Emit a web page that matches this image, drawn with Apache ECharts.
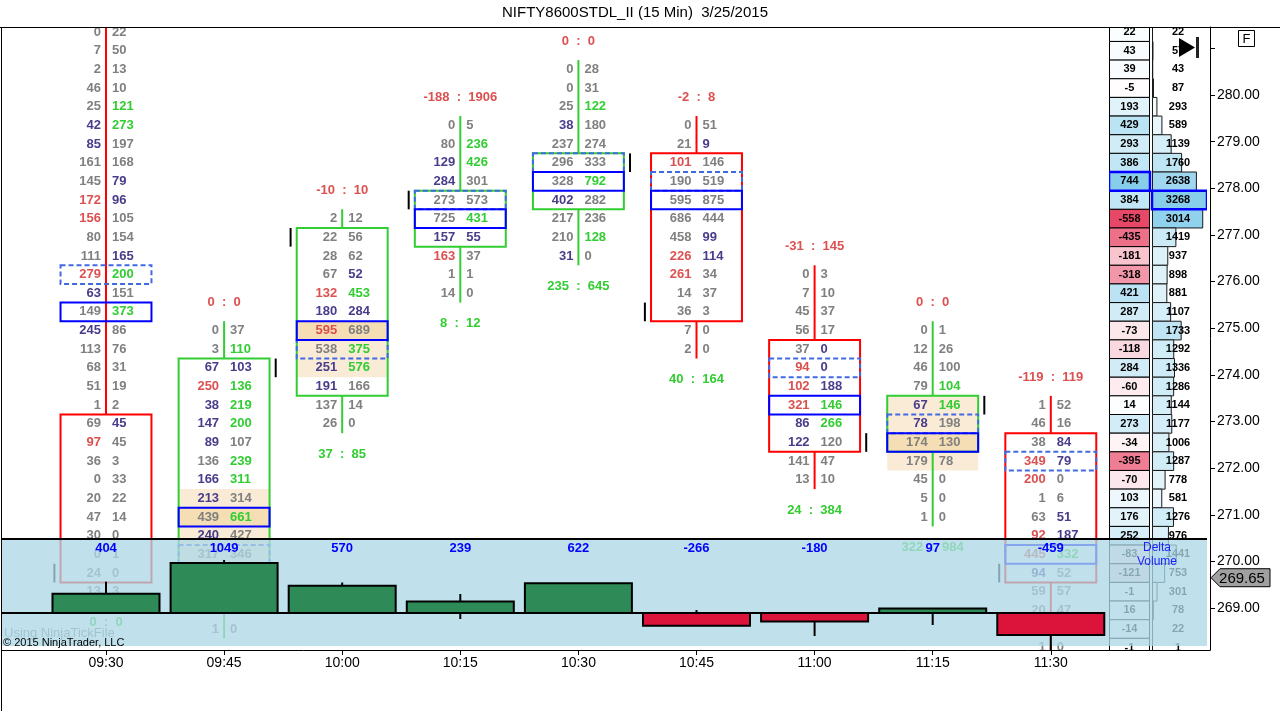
<!DOCTYPE html>
<html>
<head>
<meta charset="utf-8">
<title>NIFTY8600STDL_II footprint</title>
<script src="https://cdn.jsdelivr.net/npm/echarts@6.0.0/dist/echarts.min.js"></script>
<style>
html,body{margin:0;padding:0;background:#fff;}
#chart{width:1280px;height:711px;}
</style>
</head>
<body>
<div id="chart"></div>
<script>
// ================= DATA =================
const times = ['09:30','09:45','10:00','10:15','10:30','10:45','11:00','11:15','11:30'];
const tickSize = 0.4;                       // price height of one footprint row
// price of the highest row of every bar
const barTop = [281.35, 274.95, 277.35, 279.35, 280.55, 279.35, 276.15, 274.95, 273.35];
// bid volume per row (top row first)
const bids = [
  [0,7,2,46,25,42,85,161,145,172,156,80,111,279,63,149,245,113,68,51,1,69,97,36,0,20,47,30,0,24,13],
  [0,3,67,250,38,147,89,136,166,213,439,240,317,319,79,11,1],
  [2,22,28,67,132,180,595,538,251,191,137,26],
  [0,80,129,284,273,725,157,163,1,14],
  [0,0,25,38,237,296,328,402,217,210,31],
  [0,21,101,190,595,686,458,226,261,14,36,7,2],
  [0,7,45,56,37,94,102,321,86,122,141,13],
  [0,12,46,79,67,78,174,179,45,5,1],
  [1,46,38,349,200,1,63,92,445,94,59,20,17,1]
];
// ask volume per row (top row first)
const asks = [
  [22,50,13,10,121,273,197,168,79,96,105,154,165,200,151,373,86,76,31,19,2,45,45,3,33,22,14,0,1,0,3],
  [37,110,103,136,219,200,107,239,311,314,661,427,346,264,90,0,0],
  [12,56,62,52,453,284,689,375,576,166,14,0],
  [5,236,426,301,573,431,55,37,1,0],
  [28,31,122,180,274,333,792,282,236,128,0],
  [51,9,146,519,875,444,99,114,34,37,3,0,0],
  [3,10,37,17,0,0,188,146,266,120,47,10],
  [1,26,100,104,146,198,130,78,0,0,0],
  [52,16,84,79,0,6,51,187,332,52,57,47,4,0]
];
const opens  = [272.95, 269.75, 273.75, 276.95, 277.75, 278.55, 274.55, 272.55, 272.55];
const closes = [269.75, 274.15, 276.95, 277.75, 278.55, 275.35, 272.55, 273.35, 269.75];
const dashedLevel = [276.15, 270.15, 274.55, 277.75, 278.55, 278.15, 274.15, 272.95, 272.15];
const shadeHigh = [null, 271.35, 274.95, null, null, null, null, 273.35, null];
const shadeLow  = [null, 270.15, 274.15, null, null, null, null, 272.15, null];
const closeMarkSide = [-1, 1, -1, -1, 1, -1, 1, 1, -1];
// bar header "a : b" (red) and footer "a : b" (green); null = outside the picture
const headerA = [null, 0, -10, -188, 0, -2, -31, 0, -119];
const headerB = [null, 0, 10, 1906, 0, 8, 145, 0, 119];
const footerA = [0, null, 37, 8, 235, 40, 24, 322, null];
const footerB = [0, null, 85, 12, 645, 164, 384, 984, null];
// delta volume panel
const barDelta  = [404, 1049, 570, 239, 622, -266, -180, 97, -459];
const deltaHigh = [656, 1112, 640, 399, 622, 63, 0, 97, 0];
const deltaLow  = [0, 0, 0, -126, 0, -266, -482, -252, -776];
// right-hand profile (top row first)
const profileTop = 281.35;
const profileDelta  = [22,43,39,-5,193,429,293,386,744,384,-558,-435,-181,-318,421,287,-73,-118,284,-60,14,273,-34,-395,-70,103,176,252,-83,-121,-1,16,-14,-1];
const profileVolume = [22,57,43,87,293,589,1139,1760,2638,3268,3014,1419,937,898,881,1107,1733,1292,1336,1286,1144,1177,1006,1287,778,581,1276,976,1441,753,301,78,22,1];
const lastPrice = 269.65;
const priceTicks  = [269,270,271,272,273,274,275,276,277,278,279,280,281];
const priceLabels = [269,270,271,272,273,274,275,276,277,278,279,280];

// ================= helpers =================
const FONT = '"Liberation Sans", Arial, Helvetica, sans-serif';
const TXT = {n:'#808080', p:'#483d8b', r:'#dc5050', g:'#32cd32'};
const HALF = tickSize / 2;
const BOX_HALF = 0.385, MARK_OFF = 0.437, DBAR = 0.453;
const barIdx = times.map((t, i) => i);

function imbalanceCodes(b, a) {
  const n = b.length, bc = new Array(n).fill('n'), ac = new Array(n).fill('n');
  for (let k = 0; k < n - 1; k++) {
    const A = a[k], B = b[k + 1], hi = Math.max(A, B), lo = Math.min(A, B);
    if (hi > 85 && hi > 1.4 * lo) {
      if (A > B) { ac[k] = 'g'; bc[k + 1] = 'p'; } else { bc[k + 1] = 'r'; ac[k] = 'p'; }
    }
  }
  return {bc, ac};
}
function rectEl(x, y, w, h, style, z2) { return {type:'rect', shape:{x:x, y:y, width:w, height:h}, style:style, z2:z2 || 0}; }
function lineEl(x1, y1, x2, y2, style, z2) { return {type:'line', shape:{x1:x1, y1:y1, x2:x2, y2:y2}, style:style, z2:z2 || 0}; }
function textEl(x, y, text, fill, size, weight, align, z2) {
  return {type:'text', x:x, y:y, z2:z2 || 0,
    style:{text:text, fill:fill, fontSize:size, fontWeight:weight, fontFamily:FONT,
      align:align, textAlign:align, verticalAlign:'middle', textVerticalAlign:'middle'}};
}
function pairText(a, b) { return a + '  :  ' + b; }
function mix(c0, c1, t) {
  t = Math.max(0, Math.min(1, t));
  return 'rgb(' + c0.map((v, j) => Math.round(v + (c1[j] - v) * t)).join(',') + ')';
}
const maxPosDelta = Math.max.apply(null, profileDelta);
const minNegDelta = Math.min.apply(null, profileDelta);
const maxVol = Math.max.apply(null, profileVolume);
const maxDeltaIdx = profileDelta.indexOf(maxPosDelta);
const maxVolIdx = profileVolume.indexOf(maxVol);
function deltaColor(d) {
  return d >= 0 ? mix([255,255,255], [135,206,235], d / maxPosDelta)
                : mix([255,255,255], [232,72,104], d / minNegDelta);
}
function volColor(v) { return mix([255,255,255], [135,206,235], v / maxVol); }

// ================= render functions =================
function renderBar(params, api) {
  const i = params.dataIndex;
  const b = bids[i], a = asks[i], n = b.length;
  const top = barTop[i], bot = top - (n - 1) * tickSize;
  const Y = p => api.coord([i, p])[1];
  const X = dx => api.coord([i + dx, top])[0];
  const xc = X(0), xl = X(-BOX_HALF), xr = X(BOX_HALF), bw = xr - xl;
  const up = closes[i] >= opens[i];
  const col = up ? '#32cd32' : '#ff0000';
  const hiB = Math.max(opens[i], closes[i]), loB = Math.min(opens[i], closes[i]);
  const codes = imbalanceCodes(b, a);
  let poc = 0;
  for (let k = 1; k < n; k++) if (b[k] + a[k] > b[poc] + a[poc]) poc = k;
  const pocPrice = top - poc * tickSize;
  const ch = [];
  if (shadeHigh[i] !== null) {
    const y1 = Y(shadeHigh[i] + HALF), y2 = Y(shadeLow[i] - HALF);
    ch.push(rectEl(xl, y1, bw, y2 - y1, {fill:'#faebd7'}, 0));
    if (pocPrice < shadeHigh[i] + 1e-6 && pocPrice > shadeLow[i] - 1e-6) {
      const p1 = Y(pocPrice + HALF), p2 = Y(pocPrice - HALF);
      ch.push(rectEl(xl, p1, bw, p2 - p1, {fill:'#f5deb3'}, 0));
    }
  }
  const yHigh = Y(top + HALF), yLow = Y(bot - HALF), yBT = Y(hiB + HALF), yBB = Y(loB - HALF);
  if (yBT > yHigh) ch.push(lineEl(xc, yHigh, xc, yBT, {stroke:col, lineWidth:2}, 1));
  if (yLow > yBB) ch.push(lineEl(xc, yBB, xc, yLow, {stroke:col, lineWidth:2}, 1));
  ch.push(rectEl(xl, yBT, bw, yBB - yBT, {fill:'none', stroke:col, lineWidth:2}, 2));
  const d1 = Y(dashedLevel[i] + HALF), d2 = Y(dashedLevel[i] - HALF);
  ch.push(rectEl(xl, d1, bw, d2 - d1, {fill:'none', stroke:'#4169e1', lineWidth:2, lineDash:[5,3]}, 3));
  const q1 = Y(pocPrice + HALF), q2 = Y(pocPrice - HALF);
  ch.push(rectEl(xl, q1, bw, q2 - q1, {fill:'none', stroke:'#0000ff', lineWidth:2}, 4));
  for (let k = 0; k < n; k++) {
    const y = Y(top - k * tickSize);
    ch.push(textEl(xc - 5, y, String(b[k]), TXT[codes.bc[k]], 13, 'bold', 'right', 5));
    ch.push(textEl(xc + 6, y, String(a[k]), TXT[codes.ac[k]], 13, 'bold', 'left', 5));
  }
  if (headerA[i] !== null) ch.push(textEl(xc, Y(top + 0.6), pairText(headerA[i], headerB[i]), '#dc5050', 13, 'bold', 'center', 5));
  if (footerA[i] !== null) ch.push(textEl(xc, Y(bot - 0.65), pairText(footerA[i], footerB[i]), '#32cd32', 13, 'bold', 'center', 5));
  const xm = X(closeMarkSide[i] * MARK_OFF);
  ch.push(lineEl(xm, Y(closes[i] + HALF), xm, Y(closes[i] - HALF), {stroke:'#000', lineWidth:2}, 5));
  return {type:'group', children:ch};
}

function renderProfile(params, api) {
  const k = params.dataIndex;
  const price = profileTop - k * tickSize;
  const y1 = api.coord([0, price + HALF])[1], y2 = api.coord([0, price - HALF])[1];
  const x0 = api.coord([0, price])[0], xv = api.coord([profileVolume[k], price])[0];
  const yc = (y1 + y2) / 2;
  const ch = [];
  ch.push(rectEl(x0 - 42.5, y1, 40, y2 - y1, {fill:deltaColor(profileDelta[k]), stroke:'#000', lineWidth:1}, 1));
  ch.push(rectEl(x0 + 0.5, y1, Math.max(xv - x0 - 0.5, 0), y2 - y1, {fill:volColor(profileVolume[k]), stroke:'#1a1a1a', lineWidth:1}, 1));
  if (k === maxDeltaIdx) ch.push(rectEl(x0 - 43, y1, 41, y2 - y1, {fill:'none', stroke:'#0000ff', lineWidth:2.5}, 3));
  if (k === maxVolIdx) ch.push(rectEl(x0, y1, xv - x0, y2 - y1, {fill:'none', stroke:'#0000ff', lineWidth:2.5}, 3));
  ch.push(textEl(x0 - 22.5, yc, String(profileDelta[k]), '#000', 11, 'bold', 'center', 4));
  ch.push(textEl(x0 + 26, yc, String(profileVolume[k]), '#000', 11, 'bold', 'center', 4));
  return {type:'group', children:ch};
}

function renderOverlay(params, api) {
  const cs = params.coordSys;
  const y0 = api.coord([0, 0])[1];
  const xEnd = api.coord([times.length - 1 + DBAR, 0])[0];
  return {type:'group', children:[
    rectEl(cs.x, cs.y, cs.width, cs.height, {fill:'rgba(173,216,230,0.77)'}, 0),
    lineEl(cs.x, cs.y, cs.x + cs.width, cs.y, {stroke:'#000', lineWidth:2}, 1),
    lineEl(cs.x, y0, xEnd, y0, {stroke:'#000', lineWidth:2}, 1)
  ]};
}

function renderDelta(params, api) {
  const i = params.dataIndex, cs = params.coordSys;
  const p0 = api.coord([i, 0]);
  const xc = p0[0], y0 = p0[1];
  const yv = api.coord([i, barDelta[i]])[1];
  const xl = api.coord([i - DBAR, 0])[0], xr = api.coord([i + DBAR, 0])[0];
  const yh = api.coord([i, deltaHigh[i]])[1], yl = api.coord([i, deltaLow[i]])[1];
  return {type:'group', children:[
    lineEl(xc, yh, xc, yl, {stroke:'#000', lineWidth:2}, 0),
    rectEl(xl, Math.min(y0, yv), xr - xl, Math.abs(yv - y0), {fill:barDelta[i] >= 0 ? '#2e8b57' : '#dc143c', stroke:'#000', lineWidth:2}, 1),
    textEl(xc, cs.y + 9, String(barDelta[i]), '#0000ff', 13, 'bold', 'center', 2)
  ]};
}

function renderLast(params, api) {
  const cs = params.coordSys;
  const y = api.coord([0, lastPrice])[1];
  const x0 = cs.x + cs.width + 1;
  return {type:'group', children:[
    {type:'polygon', shape:{points:[[x0, y], [x0 + 9, y - 9], [x0 + 59, y - 9], [x0 + 59, y + 9], [x0 + 9, y + 9]]},
     style:{fill:'#a0a0a0', stroke:'#000', lineWidth:1}, z2:0},
    textEl(x0 + 31, y + 1, lastPrice.toFixed(2), '#000', 15, 'normal', 'center', 1)
  ]};
}

// ================= option =================
const chart = echarts.init(document.getElementById('chart'), null, {renderer:'canvas'});
// profile grid: delta cells 1109..1149, volume bars start at 1152 and the largest ends at 1207
const profMin = -maxVol * 43 / 55;
const option = {
  animation:false,
  backgroundColor:'#fff',
  textStyle:{fontFamily:FONT},
  grid:[
    {left:2, top:27, width:1208, height:623, show:false},
    {left:2, top:539, width:1205, height:107, show:false},
    {left:1109, top:27, width:98, height:623, show:false}
  ],
  xAxis:[
    {gridIndex:0, type:'value', min:-0.8806, max:9.348,
     axisLine:{show:true, onZero:false, lineStyle:{color:'#000', width:1}},
     axisTick:{show:true, length:5, customValues:barIdx, lineStyle:{color:'#000'}},
     axisLabel:{show:true, customValues:barIdx, formatter:v => times[Math.round(v)] || '',
       color:'#000', fontSize:14, fontFamily:FONT, margin:6},
     splitLine:{show:false}},
    {gridIndex:1, type:'value', min:-0.8806, max:9.3227, show:false},
    {gridIndex:2, type:'value', min:profMin, max:maxVol, show:false}
  ],
  yAxis:[
    {gridIndex:0, type:'value', position:'right', min:268.1, max:281.46,
     axisLine:{show:true, onZero:false, lineStyle:{color:'#000', width:1}},
     axisTick:{show:true, length:5, customValues:priceTicks, lineStyle:{color:'#000'}},
     axisLabel:{show:true, customValues:priceLabels, formatter:v => Number(v).toFixed(2),
       color:'#000', fontSize:14, fontFamily:FONT, margin:7},
     splitLine:{show:false}},
    {gridIndex:1, type:'value', min:-692, max:1552, show:false},
    {gridIndex:2, type:'value', min:268.1, max:281.46, show:false}
  ],
  series:[
    {type:'custom', name:'footprint', xAxisIndex:0, yAxisIndex:0, z:2, clip:true,
     data:barIdx.map(i => [i, barTop[i]]), renderItem:renderBar},
    {type:'custom', name:'profile', xAxisIndex:2, yAxisIndex:2, z:2, clip:true,
     data:profileVolume.map((v, k) => [v, profileTop - k * tickSize]), renderItem:renderProfile},
    {type:'custom', name:'panel', xAxisIndex:1, yAxisIndex:1, z:10, clip:false,
     data:[[0, 0]], renderItem:renderOverlay},
    {type:'custom', name:'Delta Volume', xAxisIndex:1, yAxisIndex:1, z:11, clip:false,
     data:barIdx.map(i => [i, barDelta[i]]), renderItem:renderDelta},
    {type:'custom', name:'last', xAxisIndex:0, yAxisIndex:0, z:20, clip:false,
     data:[[0, lastPrice]], renderItem:renderLast}
  ],
  graphic:{elements:[
    {type:'text', x:635, y:13, z:100, style:{text:'NIFTY8600STDL_II (15 Min)  3/25/2015', fill:'#000', fontSize:15, fontFamily:FONT, align:'center', textAlign:'center', verticalAlign:'middle', textVerticalAlign:'middle'}},
    {type:'line', z:100, shape:{x1:0, y1:27.5, x2:1280, y2:27.5}, style:{stroke:'#000', lineWidth:1}},
    {type:'line', z:100, shape:{x1:1.5, y1:27, x2:1.5, y2:711}, style:{stroke:'#000', lineWidth:1}},
    {type:'text', x:4, y:633, z:1, style:{text:'Using NinjaTickFile', fill:'#808080', fontSize:13, fontFamily:FONT, align:'left', textAlign:'left', verticalAlign:'middle', textVerticalAlign:'middle'}},
    {type:'text', x:3, y:643, z:100, style:{text:'\u00a9 2015 NinjaTrader, LLC', fill:'#000', fontSize:11, fontFamily:FONT, align:'left', textAlign:'left', verticalAlign:'middle', textVerticalAlign:'middle'}},
    {type:'text', x:1157, y:548, z:100, style:{text:'Delta', fill:'#1e1eff', fontSize:12, fontFamily:FONT, align:'center', textAlign:'center', verticalAlign:'middle', textVerticalAlign:'middle'}},
    {type:'text', x:1157, y:562, z:100, style:{text:'Volume', fill:'#1e1eff', fontSize:12, fontFamily:FONT, align:'center', textAlign:'center', verticalAlign:'middle', textVerticalAlign:'middle'}},
    {type:'rect', z:100, shape:{x:1238.5, y:30.5, width:16, height:16}, style:{fill:'#fff', stroke:'#000', lineWidth:1}},
    {type:'text', x:1246.5, y:39, z:101, style:{text:'F', fill:'#000', fontSize:13, fontFamily:FONT, align:'center', textAlign:'center', verticalAlign:'middle', textVerticalAlign:'middle'}},
    {type:'polygon', z:100, shape:{points:[[1179, 38], [1179, 57], [1195, 47.5]]}, style:{fill:'#000'}},
    {type:'rect', z:100, shape:{x:1196, y:37, width:3, height:21}, style:{fill:'#222'}}
  ]}
};
chart.setOption(option);
</script>
</body>
</html>
